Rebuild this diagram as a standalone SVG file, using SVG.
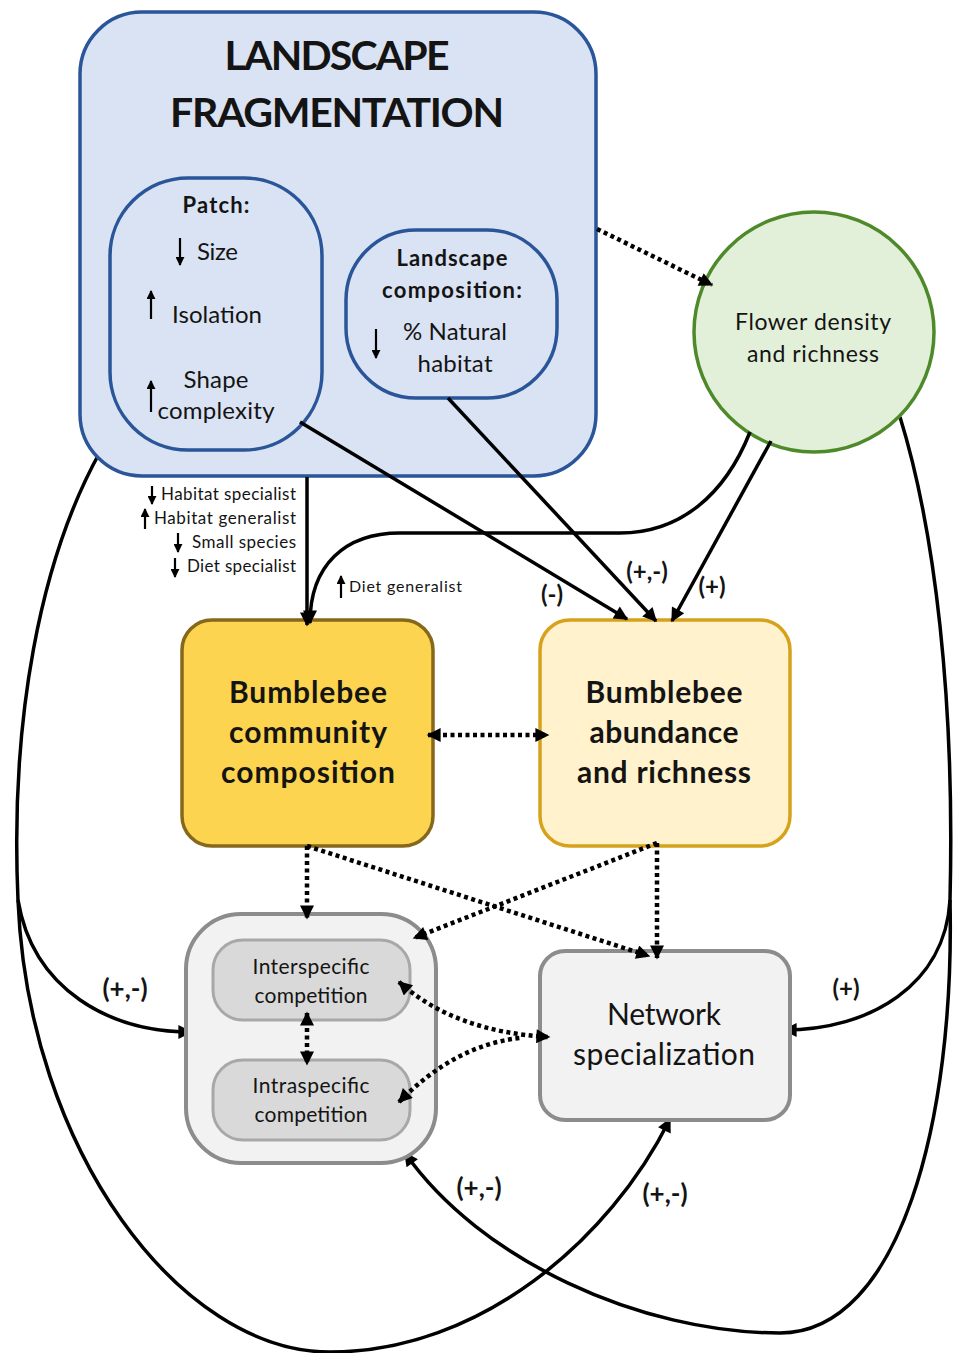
<svg xmlns="http://www.w3.org/2000/svg" width="956" height="1353" viewBox="0 0 956 1353">
<defs>
<style>
text{font-family:Lato,"Open Sans","Liberation Sans",sans-serif;fill:#141414}
.b{font-weight:bold}
.c{text-anchor:middle}
.r{text-anchor:end}
.blue{fill:#dae3f3;stroke:#2a5599;stroke-width:3.5}
.sol{fill:none;stroke:#000;stroke-width:3.5}
.dot{fill:none;stroke:#000;stroke-width:4.5;stroke-dasharray:4 3.5}
.thin{stroke:#000;stroke-width:2.2}
</style>
<marker id="ah" viewBox="0 0 10 10" refX="9" refY="5" markerWidth="20" markerHeight="14" markerUnits="userSpaceOnUse" orient="auto-start-reverse"><path d="M0,0 L10,5 L0,10 z" fill="#000"/></marker>
<marker id="ad" viewBox="0 0 10 10" refX="9" refY="5" markerWidth="18" markerHeight="14" markerUnits="userSpaceOnUse" orient="auto-start-reverse"><path d="M0,0 L10,5 L0,10 z" fill="#000"/></marker>
<marker id="sm" viewBox="0 0 10 10" refX="9" refY="5" markerWidth="9" markerHeight="9" markerUnits="userSpaceOnUse" orient="auto-start-reverse"><path d="M0,0 L10,5 L0,10 z" fill="#000"/></marker>
</defs>
<rect width="956" height="1353" fill="#fff"/>

<g id="connectors-back">
<path class="sol" d="M100 452 C40 560 10 720 18 900"/>
<path class="sol" d="M18 900 C33 990 110 1032 191 1032" marker-end="url(#ah)"/>
<path class="sol" d="M18 900 C28 1150 180 1352 330 1352 C480 1352 610 1240 670 1119" marker-end="url(#ah)"/>
<path class="sol" d="M900 417 C935 530 955 700 950 900"/>
<path class="sol" d="M950 900 C945 985 870 1030 784 1030" marker-end="url(#ah)"/>
<path class="sol" d="M950 900 C955 1120 900 1333 780 1333 C640 1333 480 1260 405 1153" marker-end="url(#ah)"/>
</g>

<g id="landscape-fragmentation">
<rect class="blue" x="80" y="12" width="516" height="464" rx="62"/>
<text class="b c" x="337" y="70" font-size="41" textLength="225">LANDSCAPE</text>
<text class="b c" x="337" y="127" font-size="41" textLength="334">FRAGMENTATION</text>
</g>

<g id="patch">
<rect class="blue" x="110" y="178" width="212" height="272" rx="78"/>
<text class="b c" x="216" y="213" font-size="22" textLength="67">Patch:</text>
<line class="thin" x1="180" y1="238" x2="180" y2="265" marker-end="url(#sm)"/>
<text x="197" y="260" font-size="24" textLength="41">Size</text>
<line class="thin" x1="151" y1="319" x2="151" y2="291" marker-end="url(#sm)"/>
<text x="172" y="323" font-size="24" textLength="90">Isolation</text>
<line class="thin" x1="151" y1="412" x2="151" y2="381" marker-end="url(#sm)"/>
<text class="c" x="216" y="388" font-size="24" textLength="65">Shape</text>
<text class="c" x="216" y="419" font-size="24" textLength="117">complexity</text>
</g>

<g id="landscape-composition">
<rect class="blue" x="346" y="230" width="211" height="168" rx="70"/>
<text class="b c" x="452" y="266" font-size="22" textLength="111">Landscape</text>
<text class="b c" x="452" y="298" font-size="22" textLength="140">composition:</text>
<line class="thin" x1="376" y1="329" x2="376" y2="358" marker-end="url(#sm)"/>
<text class="c" x="455" y="340" font-size="24" textLength="104">% Natural</text>
<text class="c" x="455" y="372" font-size="24" textLength="75">habitat</text>
</g>

<g id="flower">
<circle cx="814" cy="332" r="120" fill="#e2f0d9" stroke="#4e8a2a" stroke-width="3.5"/>
<text class="c" x="813" y="330" font-size="23" textLength="156">Flower density</text>
<text class="c" x="813" y="362" font-size="23" textLength="132">and richness</text>
</g>

<g id="trait-labels">
<line class="thin" x1="152" y1="486" x2="152" y2="504" marker-end="url(#sm)"/>
<text class="r" x="296" y="500" font-size="17" textLength="135">Habitat specialist</text>
<line class="thin" x1="145" y1="529" x2="145" y2="509" marker-end="url(#sm)"/>
<text class="r" x="296" y="524" font-size="17" textLength="142">Habitat generalist</text>
<line class="thin" x1="178" y1="533" x2="178" y2="552" marker-end="url(#sm)"/>
<text class="r" x="296" y="548" font-size="17" textLength="104">Small species</text>
<line class="thin" x1="175" y1="558" x2="175" y2="577" marker-end="url(#sm)"/>
<text class="r" x="296" y="572" font-size="17" textLength="109">Diet specialist</text>
<line class="thin" x1="341" y1="598" x2="341" y2="576" marker-end="url(#sm)"/>
<text x="349" y="592" font-size="16" textLength="113">Diet generalist</text>
</g>

<g id="community">
<rect x="182" y="620" width="251" height="226" rx="30" fill="#fdd44f" stroke="#86681c" stroke-width="3.5"/>
<text class="b c" x="308" y="703" font-size="30" textLength="158">Bumblebee</text>
<text class="b c" x="308" y="743" font-size="30" textLength="158">community</text>
<text class="b c" x="308" y="783" font-size="30" textLength="174">composition</text>
</g>

<g id="abundance">
<rect x="540" y="620" width="250" height="226" rx="30" fill="#fff2cc" stroke="#d6a21c" stroke-width="3.5"/>
<text class="b c" x="664" y="703" font-size="30" textLength="157">Bumblebee</text>
<text class="b c" x="664" y="743" font-size="30" textLength="149">abundance</text>
<text class="b c" x="664" y="783" font-size="30" textLength="174">and richness</text>
</g>

<g id="competition">
<rect x="186" y="914" width="250" height="249" rx="55" fill="#f2f2f2" stroke="#8c8c8c" stroke-width="4"/>
</g>
<g id="interspecific">
<rect x="213" y="940" width="197" height="80" rx="30" fill="#d9d9d9" stroke="#a8a8a8" stroke-width="3"/>
<text class="c" x="311" y="974" font-size="21" textLength="117">Interspecific</text>
<text class="c" x="311" y="1003" font-size="21" textLength="113">competition</text>
</g>
<g id="intraspecific">
<rect x="213" y="1060" width="197" height="80" rx="30" fill="#d9d9d9" stroke="#a8a8a8" stroke-width="3"/>
<text class="c" x="311" y="1093" font-size="21" textLength="117">Intraspecific</text>
<text class="c" x="311" y="1122" font-size="21" textLength="113">competition</text>
</g>

<g id="network">
<rect x="540" y="951" width="250" height="169" rx="25" fill="#f2f2f2" stroke="#8c8c8c" stroke-width="4"/>
<text class="c" x="664" y="1025" font-size="30" textLength="114">Network</text>
<text class="c" x="664" y="1065" font-size="30" textLength="182">specialization</text>
</g>

<g id="connectors">
<path class="dot" d="M597 229 L712 285" marker-end="url(#ad)"/>
<path class="sol" d="M307 477 L307 625" marker-end="url(#ah)"/>
<path class="sol" d="M300 422 L627 619" marker-end="url(#ah)"/>
<path class="sol" d="M448 398 L656 621" marker-end="url(#ah)"/>
<path class="sol" d="M771 441 L672 621" marker-end="url(#ah)"/>
<path class="sol" d="M750 432 C725 495 680 533 620 533 L400 533 C345 533 310 565 310 623" marker-end="url(#ah)"/>
<path class="dot" d="M428 735 L548 735" marker-start="url(#ad)" marker-end="url(#ad)"/>
<path class="dot" d="M307 846 L307 918" marker-end="url(#ad)"/>
<path class="dot" d="M307 846 L649 956" marker-end="url(#ad)"/>
<path class="dot" d="M657 843 L657 958" marker-end="url(#ad)"/>
<path class="dot" d="M657 843 L414 938" marker-end="url(#ad)"/>
<path class="dot" d="M399 982 Q455 1032 549 1037" marker-start="url(#ad)" marker-end="url(#ad)"/>
<path class="dot" d="M399 1102 Q455 1045 520 1038"  marker-start="url(#ad)"/>
<path class="dot" d="M307 1013 L307 1064" marker-start="url(#ad)" marker-end="url(#ad)"/>
</g>

<g id="edge-labels">
<text class="b c" x="552" y="603" font-size="24">(-)</text>
<text class="b c" x="647" y="580" font-size="24">(+,-)</text>
<text class="b c" x="712" y="595" font-size="24">(+)</text>
<text class="b c" x="125" y="998" font-size="26">(+,-)</text>
<text class="b c" x="846" y="997" font-size="24">(+)</text>
<text class="b c" x="479" y="1197" font-size="26">(+,-)</text>
<text class="b c" x="665" y="1203" font-size="26">(+,-)</text>
</g>
</svg>
